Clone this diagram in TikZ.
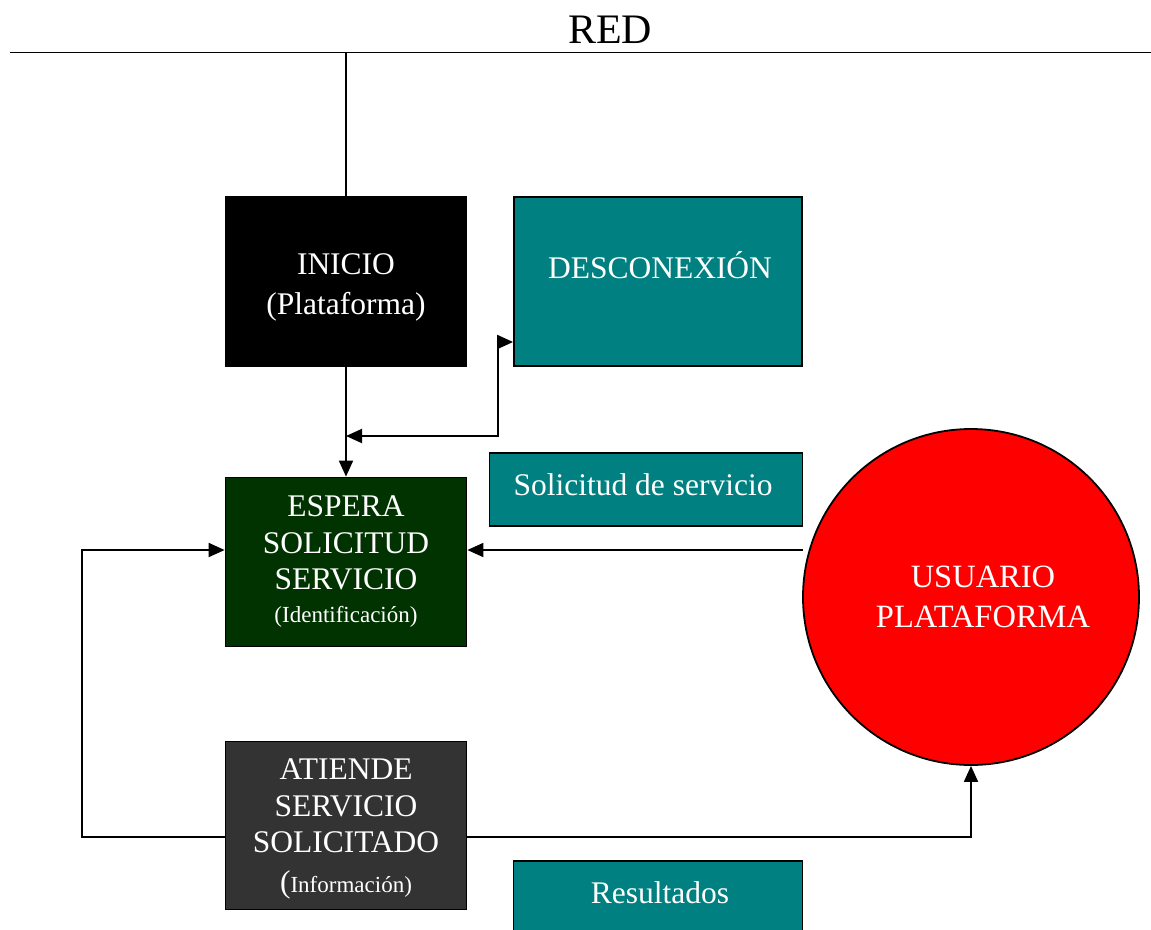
\documentclass[tikz,border=0pt]{standalone}
\usepackage{fontspec}
\setmainfont{Liberation Serif}
\usetikzlibrary{arrows.meta}
\definecolor{tealbox}{RGB}{0,128,128}
\definecolor{waitgreen}{RGB}{0,51,0}
\definecolor{servegray}{RGB}{51,51,51}
\tikzset{
  box/.style={draw=black, line width=1.8pt, inner sep=0pt},
  big/.style={font=\fontsize{31.5}{40}\selectfont, text=white, align=center},
  conn/.style={line width=1.9pt},
  tip/.tip={Triangle[length=16pt,width=14pt]},
  arr/.style={conn, -tip},
  arrs/.style={conn, tip-tip},
}
\begin{document}
\begin{tikzpicture}[x=1pt,y=-1pt]
\useasboundingbox (0,0) rectangle (1151,929);

% network bus
\node[anchor=base, font=\fontsize{42}{50}\selectfont] (red) at (610,43) {RED};
\coordinate (netW) at (10,52.5);
\coordinate (netE) at (1151,52.5);
\draw[conn] (netW) -- (netE);

% boxes
\node[box, fill=black, minimum width=241pt, minimum height=169pt] (inicio) at (346,281.5) {};
\node[box, fill=tealbox, minimum width=288pt, minimum height=169pt] (desc) at (658,281.5) {};
\node[box, fill=waitgreen, minimum width=241pt, minimum height=169pt] (espera) at (346,562) {};
\node[box, fill=servegray, minimum width=241pt, minimum height=168pt] (atiende) at (346,825.5) {};
\node[box, fill=tealbox, minimum width=313pt, minimum height=73pt] (solic) at (646,489.5) {};
\node[box, fill=tealbox, minimum width=289pt, minimum height=80pt] (result) at (658,901) {};
\node[circle, draw=black, line width=1.8pt, fill=red, minimum size=336pt, inner sep=0pt] (usuario) at (971,597) {};

% connectors
\coordinate (tap) at (inicio.north |- netW);
\draw[conn] (tap) -- (inicio.north);
\draw[arr] (inicio.south) -- (espera.north);
\coordinate (j1) at (346,436);
\coordinate (j2) at (498,436);
\draw[arrs] (j1) -- (j2) |- ([yshift=-60.5pt]desc.west);
\coordinate (u1) at (803,550);
\draw[arr] (u1) -- (espera.east |- u1);
\draw[arr] ([yshift=-11.5pt]atiende.east) -| (usuario.south);
\coordinate (loop) at (82,550);
\draw[arr] ([yshift=-11.5pt]atiende.west) -| (loop) -- (espera.west |- loop);

% labels
\node[big] (inicio-txt) at (346,287) {INICIO\\(Plataforma)};
\node[big, anchor=base] (desc-txt) at (660,278) {DESCONEXIÓN};
\node[big, font=\fontsize{31.5}{36.5}\selectfont] (espera-txt) at (346,562)
  {ESPERA\\SOLICITUD\\SERVICIO\\[-3.5pt]{\fontsize{23}{28}\selectfont (Identificación)}};
\node[big, font=\fontsize{31.5}{36.5}\selectfont] (atiende-txt) at (346,829)
  {ATIENDE\\SERVICIO\\SOLICITADO\\[3pt]({\fontsize{23}{28}\selectfont Información)}};
\node[big, anchor=base] (solic-txt) at (643,495) {Solicitud de servicio};
\node[big, anchor=base] (result-txt) at (660,903) {Resultados};
\node[big, font=\fontsize{32.5}{40}\selectfont] (usuario-txt) at (983,597) {USUARIO\\PLATAFORMA};
\end{tikzpicture}
\end{document}
